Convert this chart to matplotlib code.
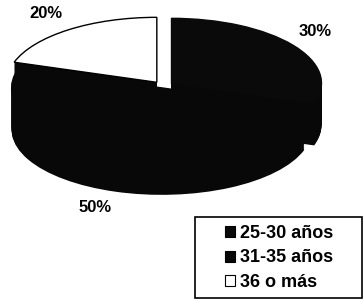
import matplotlib.pyplot as plt
import numpy as np
from matplotlib.patches import Rectangle

plt.rcParams['font.family'] = ['Liberation Sans', 'DejaVu Sans']

# datos
grupos = ['25-30 años', '31-35 años', '36 o más']
porcentajes = [30, 50, 20]
etiquetas = ['30%', '50%', '20%']
colores = ['#0a0a0a', '#080808', '#ffffff']
separacion = [0.07, 0.03, 0.07]

W, H = 364, 302
fig = plt.figure(figsize=(W / 100, H / 100), dpi=100)

# geometría del pastel en píxeles (centro, radios, grosor)
cx, cy, rx, ry, grosor = 163, 86, 150, 65, 42
prof = grosor / ry
izq, der = cx - 1.1 * rx, cx + 1.1 * rx
arriba, abajo = cy - 1.1 * ry, cy + (1.1 + prof) * ry
ax = fig.add_axes([izq / W, (H - abajo) / H, (der - izq) / W, (abajo - arriba) / H])

# lado del pastel: capas desplazadas hacia abajo
for d in np.linspace(prof, 0.01, 50):
    ax.pie(porcentajes, colors=['#080808'] * 3, startangle=90, counterclock=False,
           explode=separacion, center=(0, -d), wedgeprops=dict(linewidth=0))

cuñas, _ = ax.pie(porcentajes, colors=colores, startangle=90, counterclock=False,
                  explode=separacion, wedgeprops=dict(linewidth=1))
for c, col in zip(cuñas, colores):
    c.set_edgecolor('black' if col == '#ffffff' else col)

ax.set_aspect('auto')
ax.set_xlim(-1.1, 1.1)
ax.set_ylim(-1.1 - prof, 1.1)
ax.axis('off')

# etiquetas de porcentaje
fig.text(46 / W, 1 - 14 / H, etiquetas[2], fontsize=12, fontweight='bold', ha='center', va='center')
fig.text(315 / W, 1 - 32 / H, etiquetas[0], fontsize=12, fontweight='bold', ha='center', va='center')
fig.text(95 / W, 1 - 208 / H, etiquetas[1], fontsize=12, fontweight='bold', ha='center', va='center')

# leyenda con marco
fig.patches.append(Rectangle((195 / W, 4 / H), 167 / W, 81 / H, transform=fig.transFigure,
                             facecolor='white', edgecolor='black', linewidth=1.2))
leg = fig.legend(cuñas, grupos, loc='center', bbox_to_anchor=(279 / W, 1 - 258 / H),
                 prop={'weight': 'bold', 'size': 13}, frameon=False,
                 handlelength=0.55, handleheight=0.55, handletextpad=0.3,
                 borderpad=0, labelspacing=0.4, borderaxespad=0)
for h in leg.legend_handles:
    h.set_edgecolor('black')
    h.set_linewidth(0.8)

fig.savefig('out.png', dpi=100, facecolor='white')
